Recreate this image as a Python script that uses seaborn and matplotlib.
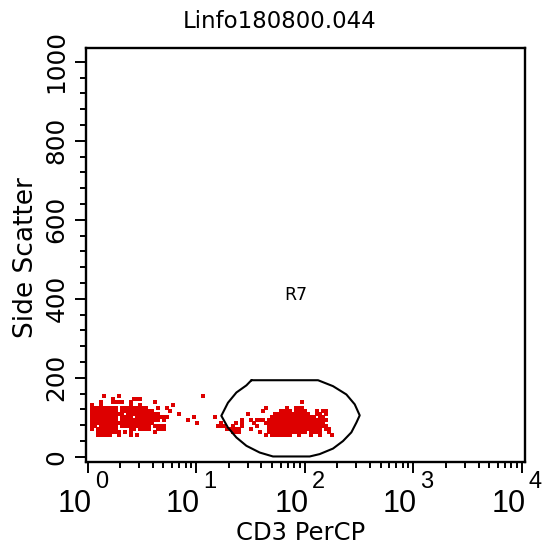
import numpy as np
import pandas as pd
import matplotlib
matplotlib.use("Agg")
import matplotlib.pyplot as plt
import seaborn as sns
from matplotlib.ticker import FixedLocator, NullFormatter, LogLocator

# ---------------- data ----------------
title = "Linfo180800.044"
x_label = "CD3 PerCP"
y_label = "Side Scatter"
gate_name = "R7"
gate_label_log_x = 1.917
gate_label_ssc = 410
x_decades = [0, 1, 2, 3, 4]
y_ticks = [0, 200, 400, 600, 800, 1000]

# display-cell grid of the dot plot (CD3 in log decades, SSC in linear units)
cell_log_origin = 0.0415
cell_log_step = 0.02765
cell_ssc_origin = 162.1
cell_ssc_step = 7.576
# occupied cells per display row (row 0 = top), column indices / ranges
event_rows = [
    "",
    "4,9,37",
    "7,14-16",
    "3,7-10,13,21,70",
    "0,3,13,16,27",
    "0-8,10-18,22,25,58,65,68-70",
    "0-8,10-20,26,57,63-66,68-71,75,77-78",
    "0-10,12-22,29,52,61-72,75-76,78",
    "0-8,10-13,15-25,34,41,60-74,76-77",
    "0-8,10-22,24,32,50,53,55-57,59-78",
    "0-20,35,43,48,50,54,58-77",
    "0-1,3-8,10-19,21-24,42-44,47,50,55,59-78",
    "0,2-8,13-14,16-19,22-24,45-49,53,59-76,78-79",
    "2-9,11,13,21,47-49,56,59-71,73-76,79",
    "2-6,9,13,15,58,60-66,69,73,76,80",
]

# gate R7 outline vertices
gate_log_x = [1.509, 2.123, 2.261, 2.384, 2.461, 2.507, 2.477, 2.430, 2.353, 2.261,
              2.138, 2.046, 1.708, 1.585, 1.463, 1.371, 1.293, 1.232, 1.293, 1.371, 1.463]
gate_ssc = [194, 194, 179, 158, 133, 105, 87, 62, 40, 21,
            7, 1, 1, 11, 28, 49, 74, 104, 137, 163, 181]

# ---------------- build event table ----------------
cd3, ssc = [], []
for r, spec in enumerate(event_rows):
    for tok in [t for t in spec.split(",") if t]:
        if "-" in tok:
            a, b = map(int, tok.split("-"))
        else:
            a = b = int(tok)
        for c in range(a, b + 1):
            cd3.append(10 ** (cell_log_origin + c * cell_log_step))
            ssc.append(cell_ssc_origin - r * cell_ssc_step)
events = pd.DataFrame({"CD3": cd3, "SSC": ssc})

# ---------------- figure ----------------
sns.set_style("ticks")
plt.rcParams["font.family"] = ["DejaVu Sans"]
plt.rcParams.update({"text.color": "black", "axes.labelcolor": "black",
                     "xtick.color": "black", "ytick.color": "black",
                     "axes.edgecolor": "black"})

W, H = 543, 554
fig = plt.figure(figsize=(W / 100, H / 100), dpi=100)
fig.patch.set_facecolor("white")
ax = fig.add_axes([86 / W, 1 - 462 / H, 439 / W, 414 / H])

sns.scatterplot(data=events, x="CD3", y="SSC", marker="s", s=4.8,
                color="#dd0000", linewidth=0, legend=False, ax=ax)
ax.set_xscale("log")
ax.set_xlim(10 ** -0.015, 10 ** 4.03)
ax.set_ylim(-13, 1035)

gx = 10 ** np.array(gate_log_x + gate_log_x[:1])
gy = np.array(gate_ssc + gate_ssc[:1])
ax.plot(gx, gy, color="black", lw=1.5, solid_joinstyle="round")
ax.text(10 ** gate_label_log_x, gate_label_ssc, gate_name, ha="center", va="center",
        fontsize=12.5, color="black")

for s in ["top", "right", "left", "bottom"]:
    ax.spines[s].set_linewidth(1.7)
    ax.spines[s].set_color("black")

# x axis ticks
ax.xaxis.set_major_locator(FixedLocator([10 ** k for k in x_decades]))
ax.xaxis.set_minor_locator(LogLocator(base=10, subs=range(2, 10), numticks=20))
ax.xaxis.set_major_formatter(NullFormatter())
ax.xaxis.set_minor_formatter(NullFormatter())
ax.tick_params(axis="x", which="major", length=8, width=1.4, direction="out", color="black")
ax.tick_params(axis="x", which="minor", length=4.2, width=1.4, direction="out", color="black")

tickfont = ["Liberation Sans", "DejaVu Sans"]
for k in x_decades:
    ax.annotate("10", xy=(10 ** k, 0), xycoords=("data", "axes fraction"),
                xytext=(4, -50), textcoords="offset pixels", ha="right", va="baseline",
                fontsize=22, family=tickfont, color="black", annotation_clip=False)
    ax.annotate(str(k), xy=(10 ** k, 0), xycoords=("data", "axes fraction"),
                xytext=(7, -26), textcoords="offset pixels", ha="left", va="baseline",
                fontsize=17, family=tickfont, color="black", annotation_clip=False)

# y axis ticks
ax.set_yticks(y_ticks)
ax.set_yticklabels([str(v) for v in y_ticks])
ax.yaxis.set_minor_locator(FixedLocator([v for v in range(0, 1001, 40) if v % 200]))
ax.tick_params(axis="y", which="major", length=8, width=1.4, direction="out",
               labelsize=17.8, pad=4.5, labelrotation=90, color="black", labelcolor="black")
ax.tick_params(axis="y", which="minor", length=4.2, width=1.4, direction="out", color="black")
plt.setp(ax.get_yticklabels(), va="center", ha="right")

ax.set_xlabel(x_label, fontsize=17.5, color="black")
ax.xaxis.label.set_va("baseline")
ax.xaxis.set_label_coords((301 - 86) / 439, (462 - 540) / 414)
ax.set_ylabel(y_label, fontsize=19, color="black")
ax.yaxis.label.set_va("baseline")
ax.yaxis.set_label_coords((33 - 86) / 439, (462 - 258) / 414)

fig.text(280 / W, 1 - 28 / H, title, ha="center", va="baseline", fontsize=16.5, color="black")

fig.savefig("out.png", dpi=100, facecolor="white")
